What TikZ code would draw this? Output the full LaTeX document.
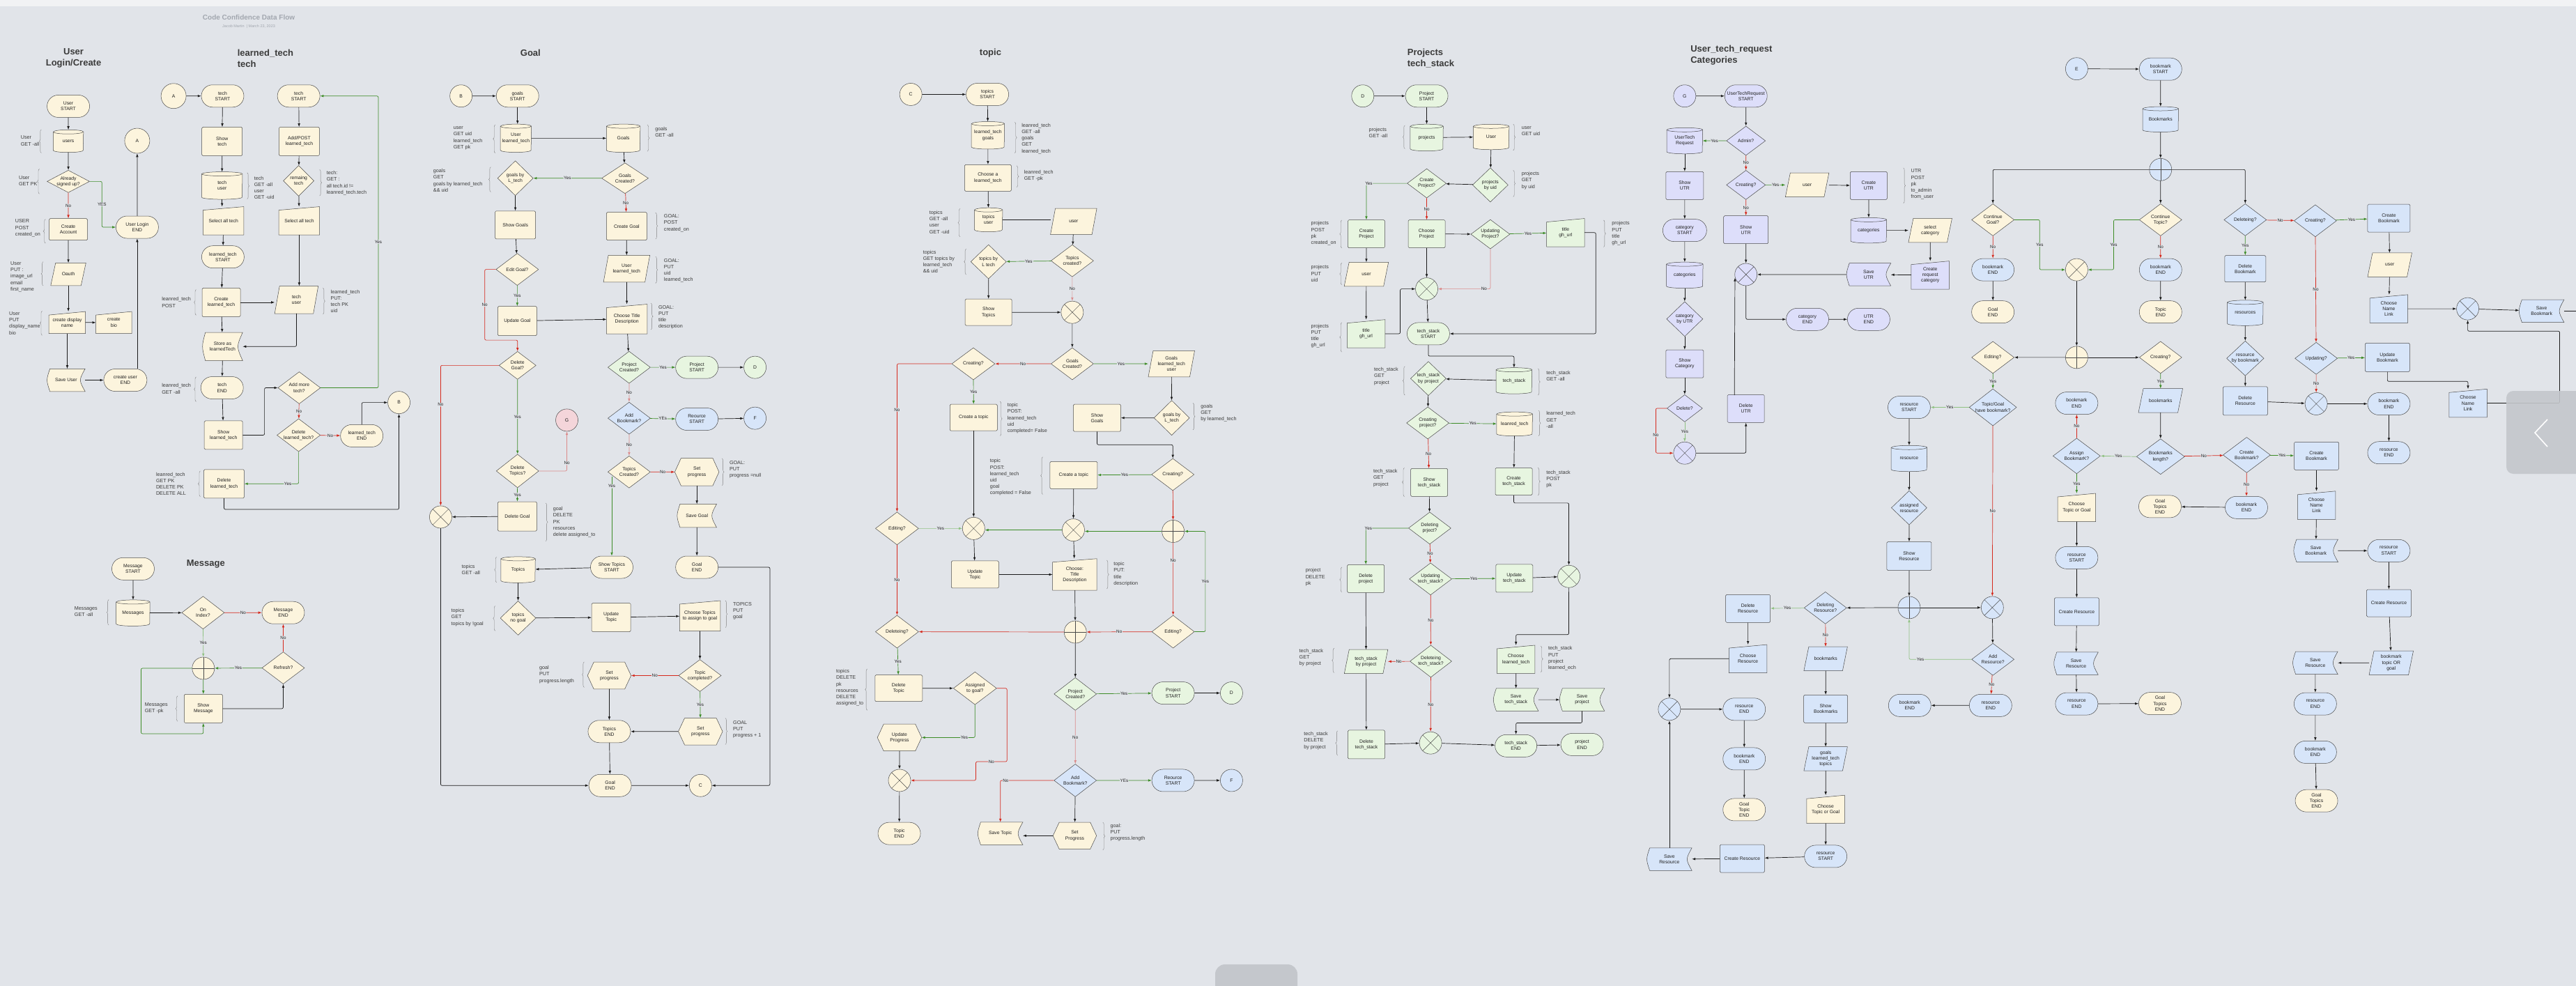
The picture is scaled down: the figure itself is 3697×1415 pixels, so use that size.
\documentclass[tikz,border=0pt]{standalone}
\usepackage{fontspec}
\setmainfont{Liberation Sans}
\usetikzlibrary{shapes.geometric,shapes.misc,arrows.meta,decorations.pathreplacing,calc,backgrounds}
\definecolor{bg}{HTML}{E1E4E9}
\definecolor{cr}{HTML}{FCF4DD}
\definecolor{gn}{HTML}{E7F5E0}
\definecolor{bl}{HTML}{D7E5F9}
\definecolor{lv}{HTML}{DDDEFA}
\definecolor{pk}{HTML}{F4D5DA}
\definecolor{bd}{HTML}{4A4A4A}
\definecolor{ln}{HTML}{1A1A1A}
\definecolor{gr}{HTML}{3C8C26}
\definecolor{rd}{HTML}{D5281C}
\definecolor{grl}{HTML}{8FC181}
\definecolor{rdl}{HTML}{DB8A8A}
\definecolor{txt}{HTML}{202020}
\definecolor{ttl}{HTML}{3A3A3A}
\definecolor{sub}{HTML}{A2A7AF}
\definecolor{topc}{HTML}{F1F2F4}
\definecolor{uig}{HTML}{C4C7CC}
\newcommand\fnNode{\fontsize{6.8}{8.2}\selectfont}
\newcommand\fnAnn{\fontsize{7.2}{9.2}\selectfont}
\newcommand\fnTitle{\fontsize{13}{15.6}\selectfont\bfseries}
\newcommand\fnLab{\fontsize{6.3}{7}\selectfont}
\newcommand\fnMain{\fontsize{10}{12}\selectfont\bfseries}
\newcommand\fnSub{\fontsize{5.5}{6.5}\selectfont}
\newcommand\BrL[3]{\draw[brc] (#1,#3) -- (#1,#2);}
\newcommand\BrR[3]{\draw[brc] (#1,#2) -- (#1,#3);}
\newcommand\ShCyl[3]{%
\path[shp,fill=#2] ([yshift=-3pt]#1.north west) -- ([yshift=3pt]#1.south west) arc[start angle=180,end angle=360,x radius=#3pt,y radius=3pt] -- ([yshift=-3pt]#1.north east) arc[start angle=0,end angle=180,x radius=#3pt,y radius=3pt] -- cycle;
\draw[shp] ([yshift=-3pt]#1.north west) arc[start angle=180,end angle=360,x radius=#3pt,y radius=3pt];}
\newcommand\ShMan[2]{\path[shp,fill=#2] (#1.south west) -- (#1.south east) -- (#1.north east) -- ([yshift=-5pt]#1.north west) -- cycle;}
\newcommand\ShSto[2]{\path[shp,fill=#2] ([xshift=4pt]#1.north west) -- (#1.north east) .. controls ([xshift=-9pt]#1.east) .. (#1.south east) -- ([xshift=4pt]#1.south west) .. controls ([xshift=-1.4pt]#1.west) .. ([xshift=4pt]#1.north west) -- cycle;}
\newcommand\ShHex[2]{\path[shp,fill=#2] (#1.west) -- ([xshift=9pt]#1.north west) -- ([xshift=-9pt]#1.north east) -- (#1.east) -- ([xshift=-9pt]#1.south east) -- ([xshift=9pt]#1.south west) -- cycle;}
\newcommand\ShPar[2]{\path[shp,fill=#2] ([xshift=7pt]#1.north west) -- (#1.north east) -- ([xshift=-7pt]#1.south east) -- (#1.south west) -- cycle;}
\tikzset{
 nd/.style={draw=bd, line width=0.5pt, align=center, inner sep=1pt, font=\fnNode, text=txt},
 term/.style={nd, rounded rectangle, fill=#1, minimum width=63pt, minimum height=32pt},
 proc/.style={nd, rectangle, rounded corners=1.5pt, fill=#1, minimum width=57pt, minimum height=40pt},
 dec/.style={nd, diamond, inner sep=0pt, aspect=1.32, fill=#1, minimum width=61pt, minimum height=46pt},
 circ/.style={nd, circle, fill=#1, minimum size=32pt, inner sep=0pt},
 xc/.style={circ=#1, path picture={\draw[draw=bd, line width=0.4pt] (path picture bounding box.north west) -- (path picture bounding box.south east) (path picture bounding box.north east) -- (path picture bounding box.south west);}},
 pc/.style={circ=#1, path picture={\draw[draw=bd, line width=0.4pt] (path picture bounding box.north) -- (path picture bounding box.south) (path picture bounding box.west) -- (path picture bounding box.east);}},
 sp/.style={nd, draw=none, rectangle, minimum width=57pt, minimum height=40pt},
 wh/.style 2 args={minimum width=#1pt, minimum height=#2pt},
 shp/.style={draw=bd, line width=0.5pt},
 arr/.style={draw=ln, line width=0.7pt, rounded corners=2pt, -{Latex[length=5pt,width=3.6pt]}},
 ga/.style={arr, draw=gr}, ra/.style={arr, draw=rd},
 gla/.style={arr, draw=grl}, rla/.style={arr, draw=rdl},
 pl/.style={draw=ln, line width=0.7pt, rounded corners=2pt},
 lab/.style={fill=bg, inner sep=0.5pt, font=\fnLab, text=txt},
 an/.style={anchor=west, align=left, font=\fnAnn, text=ttl, inner sep=0pt},
 brc/.style={draw=bd!70, line width=0.4pt, decorate, decoration={brace, amplitude=3pt}},
 z1/.style={shift={(0,0)},xscale=0.39541,yscale=0.45918},
 z2/.style={shift={(600,0)},xscale=0.39541,yscale=0.45918},
 z3/.style={shift={(1200,0)},xscale=0.39541,yscale=0.45918},
 z4/.style={shift={(1800,0)},xscale=0.39541,yscale=0.45918},
 z5/.style={shift={(2400,0)},xscale=0.41454,yscale=0.45918},
 z6/.style={shift={(3040,0)},xscale=0.41901,yscale=0.45918},
 z7/.style={shift={(0,700)},xscale=0.39541,yscale=0.45599},
 z8/.style={shift={(600,700)},xscale=0.39541,yscale=0.45599},
 z9/.style={shift={(1200,700)},xscale=0.39541,yscale=0.45599},
 z10/.style={shift={(1800,700)},xscale=0.39541,yscale=0.45599},
 z11/.style={shift={(2400,700)},xscale=0.41454,yscale=0.45599},
 z12/.style={shift={(3040,700)},xscale=0.41901,yscale=0.45599},
}
\begin{document}
\begin{tikzpicture}[x=1pt,y=-1pt]
\path[use as bounding box] (0,0) rectangle (3697,1415);
% ================= Z1 =================
\begin{scope}[z1]
\node[font=\fnMain, text=sub] (mainT) at (903,55) {Code Confidence Data Flow};
\node[font=\fnSub, text=sub] (subT) at (903,83) {Jacob Martin \ |\ March 23, 2023};
\node[font=\fnTitle, text=ttl, align=center] (tUser) at (267,182) {User\\Login/Create};
\node[font=\fnTitle, text=ttl, align=left, anchor=west] (tLT) at (853,182) {learned\_tech\\tech};
\node[term=cr] (uStart) at (248,332) {User\\START};
\node[sp, wh={43}{32}] (users) at (248,441) {users};
\node[dec=cr, wh={60}{31}, aspect=1.9] (signed) at (248,567) {Already\\signed up?};
\node[circ=cr, minimum size=36pt] (A1) at (498,440) {A};
\node[term=cr] (loginEnd) at (498,710) {User Login\\END};
\node[proc=cr, wh={55}{31}] (createAcc) at (248,717) {Create\\Account};
\node[sp, wh={50}{32}] (oauth) at (248,857) {Oauth};
\node[sp, wh={52}{31}] (dispName) at (244,1008) {create display\\name};
\node[sp, wh={51}{31}] (bio) at (413,1008) {create\\bio};
\node[sp, wh={54}{32}] (saveUser) at (240,1188) {Save User};
\node[term=cr, wh={64}{32}] (cuEnd) at (455,1188) {create user\\END};
\node[an] (aU1) at (75,440) {User\\GET -all}; \BrL{150}{405}{478}
\node[an] (aU2) at (68,566) {User\\GET PK}; \BrL{143}{528}{606}
\node[an] (aU3) at (55,713) {USER\\POST\\created\_on}; \BrL{165}{685}{760}
\node[an] (aU4) at (38,865) {User\\PUT :\\image\_url\\email\\first\_name}; \BrL{157}{818}{893}
\node[an] (aU5) at (33,1010) {User\\PUT\\display\_name\\bio}; \BrL{153}{972}{1048}
\draw[arr] (uStart) -- (users);
\draw[arr] (users) -- (signed);
\draw[ra] (signed) -- node[lab]{No} (createAcc);
\draw[ga] (signed.east) -- (370,567) |- node[lab,pos=0.25]{YES} (loginEnd.west);
\draw[arr] (loginEnd) -- (A1);
\draw[arr] (createAcc) -- (oauth);
\draw[arr] (oauth.south) -- (oauth.south |- dispName.north);
\draw[arr] (dispName) -- (bio);
\draw[arr] (dispName.south) -- (dispName.south |- saveUser.north);
\draw[arr] (saveUser) -- (cuEnd);
\draw[arr] (cuEnd.north -| loginEnd.south) -- (loginEnd.south);
% learned tech
\node[circ=cr, minimum size=36pt] (A2) at (630,300) {A};
\node[term=cr] (tStart1) at (808,300) {tech\\START};
\node[term=cr] (tStart2) at (1084,300) {tech\\START};
\node[proc=cr, wh={58}{41}] (showTech) at (806,442) {Show\\tech};
\node[proc=cr, wh={58}{41}] (addPost) at (1086,442) {Add/POST\\learned\_tech};
\node[sp, wh={58}{39}] (techUser) at (806,580) {tech\\user};
\node[dec=cr, wh={44}{44}, aspect=1] (remaing) at (1084,565) {remaing\\tech};
\node[sp, wh={58}{40}] (sel1) at (811,690) {Select all tech};
\node[sp, wh={58}{40}] (sel2) at (1086,690) {Select all tech};
\node[term=cr] (ltStart) at (809,803) {learned\_tech\\START};
\node[proc=cr, wh={55}{41}] (createLT) at (803,945) {Create\\learned\_tech};
\node[sp, wh={62}{39}] (techUser2) at (1076,937) {tech\\user};
\node[sp, wh={57}{40}] (storeLT) at (808,1083) {Store as\\learnedTech};
\node[term=cr] (tEnd) at (806,1212) {tech\\END};
\node[proc=cr, wh={55}{41}] (showLT) at (811,1360) {Show\\learned\_tech};
\node[dec=cr] (addMore) at (1086,1212) {Add more\\tech?};
\node[dec=cr, wh={62}{46}] (delQ) at (1084,1360) {Delete\\learned\_tech?};
\node[term=cr] (ltEnd) at (1313,1362) {learned\_tech\\END};
\node[circ=cr] (B1) at (1448,1258) {B};
\node[proc=cr, wh={58}{41}] (delLT) at (813,1512) {Delete\\learned\_tech};
\node[an] (aT1) at (922,587) {tech\\GET -all\\user\\GET -uid}; \BrR{897}{540}{622}
\node[an] (aT2) at (1185,572) {tech:\\GET :\\all tech.id !=\\leanred\_tech.tech}; \BrR{1160}{530}{612}
\node[an] (aT3) at (587,945) {leanred\_tech\\POST}; \BrL{712}{905}{985}
\node[an] (aT4) at (1200,942) {learned\_tech\\PUT:\\tech PK\\uid}; \BrR{1172}{900}{982}
\node[an] (aT5) at (587,1215) {leanred\_tech\\GET -all}; \BrL{712}{1178}{1255}
\node[an] (aT6) at (566,1512) {leanred\_tech\\GET PK\\DELETE PK\\DELETE ALL}; \BrL{727}{1472}{1552}
\draw[arr] (A2) -- (tStart1);
\draw[arr] (tStart1) -- (showTech);
\draw[arr] (showTech) -- (techUser);
\draw[arr] (techUser.south) -- (techUser.south |- sel1.north);
\draw[arr] (sel1) -- (ltStart);
\draw[arr] (ltStart) -- (createLT);
\draw[arr] (createLT.east) -- (createLT.east -| techUser2.west);
\draw[arr] (createLT) -- (storeLT);
\draw[arr] (techUser2.south) |- (storeLT.east);
\draw[arr] (storeLT) -- (tEnd);
\draw[arr] (tEnd) -- (showLT);
\draw[arr] (showLT.east) -- (960,1360) |- (addMore.west);
\draw[arr] (tStart2) -- (addPost);
\draw[arr] (addPost) -- (remaing);
\draw[arr] (remaing) -- (sel2);
\draw[arr] (sel2.south) -- (sel2.south |- techUser2.north);
\draw[ga] (addMore.east) -- (1373,1212) |- node[lab,pos=0.25]{Yes} (tStart2.east);
\draw[ra] (addMore) -- node[lab]{No} (delQ);
\draw[ra] (delQ) -- node[lab]{No} (ltEnd);
\draw[arr] (ltEnd.north) |- (B1.west);
\draw[ga] (delQ.south) |- node[lab,pos=0.6]{Yes} (delLT.east);
\draw[arr] (delLT.south) -- (813,1592) -| (B1.south);
\end{scope}
% ================= Z2 =================
\begin{scope}[z2]
\node[font=\fnTitle, text=ttl] (tGoal) at (408,165) {Goal};
\node[circ=cr] (B2) at (156,300) {B};
\node[term=cr] (gStart) at (361,300) {goals\\START};
\node[sp, wh={44}{40}] (ulCyl) at (355,432) {User\\learned\_tech};
\node[sp, wh={48}{40}] (goalsCyl) at (745,432) {Goals};
\node[dec=cr, wh={51}{50}, aspect=1] (gByL) at (353,557) {goals by\\L\_tech};
\node[dec=cr, wh={67}{44}, aspect=1.5] (goalsCreated) at (751,557) {Goals\\Created?};
\node[proc=cr, wh={58}{40}] (showGoals) at (353,703) {Show Goals};
\node[proc=cr, wh={58}{40}] (createGoal) at (757,707) {Create Goal};
\node[dec=cr] (editGoal) at (360,842) {Edit Goal?};
\node[sp, wh={66}{38}] (ulPara) at (757,840) {User\\learned\_tech};
\node[proc=cr, wh={56}{42}] (updGoal) at (360,1003) {Update Goal};
\node[sp, wh={58}{42}] (chooseTD) at (758,997) {Choose Title\\Description};
\node[dec=cr, wh={53}{40}] (delGoalQ) at (361,1142) {Delete\\Goal?};
\node[dec=gn] (projCreated) at (766,1148) {Project\\Created?};
\node[term=gn] (projStart) at (1012,1148) {Project\\START};
\node[circ=gn] (D1) at (1223,1148) {D};
\node[dec=bl] (addBm) at (766,1307) {Add\\Bookmark?};
\node[term=bl] (resStart) at (1012,1310) {Reource\\START};
\node[circ=bl] (F1) at (1223,1307) {F};
\node[dec=cr] (topicsCreated) at (766,1475) {Topics\\Created?};
\node[sp, wh={63}{39}] (setProg1) at (1012,1475) {Set\\progress};
\node[dec=cr, wh={61}{48}] (delTopicsQ) at (361,1472) {Delete\\Topics?};
\node[circ=pk] (G1) at (540,1313) {G};
\coordinate (tcY) at (703,1490);
\node[an] (aG1) at (128,432) {user\\GET uid\\learned\_tech\\GET pk}; \BrL{280}{390}{478}
\node[an] (aG2) at (860,412) {goals\\GET -all}; \BrR{832}{390}{473}
\node[an] (aG3) at (55,564) {goals\\GET\\goals by learned\_tech\\\&\& uid}; \BrL{264}{522}{600}
\node[an] (aG4) at (892,697) {GOAL:\\POST\\created\_on}; \BrR{862}{665}{747}
\node[an] (aG5) at (892,845) {GOAL:\\PUT\\uid\\learned\_tech}; \BrR{862}{802}{885}
\node[an] (aG6) at (872,991) {GOAL:\\PUT\\title\\description}; \BrR{845}{948}{1030}
\node[an] (aG7) at (1130,1467) {GOAL:\\PUT\\progress =null}; \BrR{1103}{1433}{1517}
\draw[arr] (B2) -- (gStart);
\draw[arr] (gStart.south) -- (gStart.south |- ulCyl.north);
\draw[arr] (ulCyl) -- (goalsCyl);
\draw[arr] (goalsCyl) -- (goalsCreated);
\draw[ga] (goalsCreated) -- node[lab]{Yes} (gByL);
\draw[ra] (goalsCreated) -- node[lab]{No} (createGoal);
\draw[arr] (gByL) -- (showGoals);
\draw[arr] (showGoals) -- (editGoal);
\draw[arr] (createGoal) -- (ulPara);
\draw[arr] (ulPara) -- (chooseTD);
\draw[ga] (editGoal) -- node[lab]{Yes} (updGoal);
\draw[arr] (updGoal) -- (chooseTD);
\draw[ra] (editGoal.west) -- (242,842) -- node[lab]{No} (242,1063) -| (delGoalQ.north);
\draw[arr] (chooseTD) -- (projCreated);
\draw[ga] (projCreated) -- node[lab]{Yes} (projStart);
\draw[arr] (projStart) -- (D1);
\draw[rla] (projCreated) -- node[lab]{No} (addBm);
\draw[ga] (addBm) -- node[lab]{YEs} (resStart);
\draw[arr] (resStart) -- (F1);
\draw[rla] (addBm) -- node[lab]{No} (topicsCreated);
\draw[ra] (topicsCreated) -- node[lab]{No} (setProg1);
\draw[ga] (delGoalQ) -- node[lab]{Yes} (delTopicsQ);
\draw[rla] (delTopicsQ.east) -| node[lab,pos=0.6]{No} (G1.south);
\end{scope}
% ================= Z8 =================
\begin{scope}[z8]
\node[xc=cr] (X1) at (82,92) {};
\node[proc=cr, wh={56}{42}] (delGoal) at (360,90) {Delete Goal};
\node[sp, wh={56}{33}] (saveGoal) at (1012,88) {Save Goal};
\node[term=cr] (stStart) at (703,250) {Show Topics\\START};
\node[term=cr] (gEnd1) at (1012,250) {Goal\\END};
\node[sp, wh={49}{37}] (topicsCyl) at (363,258) {Topics};
\node[dec=cr, wh={51}{49}, aspect=1] (tNoGoal) at (363,410) {topics\\no goal};
\node[proc=cr, wh={56}{41}] (updTopic1) at (701,408) {Update\\Topic};
\node[sp, wh={58}{43}] (chooseTopics) at (1023,403) {Choose Topics\\to assign to goal};
\node[dec=cr] (topicComp) at (1023,591) {Topic\\completed?};
\node[sp, wh={62}{38}] (setProgL) at (694,591) {Set\\progress};
\node[sp, wh={63}{38}] (setProgR) at (1025,767) {Set\\progress};
\node[term=cr] (topicsEnd) at (694,767) {Topics\\END};
\node[term=cr] (gEnd2) at (697,937) {Goal\\END};
\node[circ=cr] (C1) at (1025,937) {C};
\node[an] (aG8) at (490,108) {goal\\DELETE\\PK\\resources\\delete assigned\_to}; \BrR{463}{48}{168}
\node[an] (aG9) at (158,257) {topics\\GET -all}; \BrL{285}{218}{298}
\node[an] (aG10) at (120,408) {topics\\GET\\topics by !goal}; \BrL{280}{372}{450}
\node[an] (aG11) at (1143,388) {TOPICS\\PUT\\goal}; \BrR{1115}{355}{440}
\node[an] (aG12) at (440,588) {goal\\PUT\\progress.length}; \BrL{603}{548}{628}
\node[an] (aG13) at (1143,760) {GOAL\\PUT\\progress + 1}; \BrR{1115}{725}{808}
\draw[arr] (delGoal) -- (X1);
\draw[arr] (saveGoal) -- (gEnd1);
\draw[arr] (stStart) -- (topicsCyl);
\draw[arr] (topicsCyl) -- (tNoGoal);
\draw[arr] (tNoGoal) -- (updTopic1);
\draw[arr] (updTopic1) -- (chooseTopics);
\draw[arr] (chooseTopics) -- (topicComp);
\draw[ra] (topicComp) -- node[lab]{No} (setProgL);
\draw[ga] (topicComp) -- node[lab]{Yes} (setProgR);
\draw[arr] (setProgR) -- (topicsEnd);
\draw[arr] (setProgL) -- (topicsEnd);
\draw[arr] (topicsEnd) -- (gEnd2);
\draw[arr] (gEnd2) -- (C1);
\draw[arr] (X1.south) |- (gEnd2.west);
\draw[arr] (gEnd1.east) -- (1277,250) |- (C1.east);
\end{scope}
% ================= Z3 =================
\begin{scope}[z3]
\node[font=\fnTitle, text=ttl] (tTopic) at (560,165) {topic};
\node[circ=cr] (C2) at (271,295) {C};
\node[term=cr] (tpStart) at (549,295) {topics\\START};
\node[sp, wh={47}{39}] (ltgCyl) at (551,423) {learned\_tech\\goals};
\node[proc=cr, wh={67}{38}] (chooseLT) at (551,556) {Choose a\\learned\_tech};
\node[sp, wh={40}{34}] (tuCyl) at (553,687) {topics\\user};
\node[sp, wh={66}{37}] (userP) at (862,692) {user};
\node[dec=cr, wh={51}{49}, aspect=1] (tByL) at (553,818) {topics by\\L tech};
\node[dec=cr] (topicsCreatedQ) at (857,815) {Topics\\created?};
\node[proc=cr, wh={67}{38}] (showTopics) at (553,976) {Show\\Topics};
\node[xc=cr] (X2) at (857,976) {};
\node[dec=cr, wh={62}{46}] (creatingL) at (498,1137) {Creating?};
\node[dec=cr] (goalsCreatedQ) at (857,1137) {Goals\\Created?};
\node[sp, wh={66}{37}] (gltu) at (1217,1137) {Goals\\learned\_tech\\user};
\node[dec=cr, wh={51}{50}, aspect=1] (gByL2) at (1218,1306) {goals by\\L\_tech};
\node[proc=cr, wh={68}{39}] (showGoals2) at (947,1306) {Show\\Goals};
\node[proc=cr, wh={68}{38}] (createTopicL) at (499,1305) {Create a topic};
\node[dec=cr] (creatingR) at (1222,1483) {Creating?};
\node[proc=cr, wh={68}{39}] (createTopicR) at (862,1485) {Create a topic};
\node[an] (aP1) at (673,433) {leanred\_tech\\GET -all\\goals\\GET\\learned\_tech}; \BrR{648}{382}{478}
\node[an] (aP2) at (682,549) {leanred\_tech\\GET -pk}; \BrR{655}{518}{585}
\node[an] (aP3) at (338,694) {topics\\GET -all\\user\\GET -uid}; \BrL{450}{652}{740}
\node[an] (aP4) at (315,818) {topics\\GET topics by\\learned\_tech\\\&\& uid}; \BrL{472}{778}{858}
\node[an] (aP5) at (621,1307) {topic\\POST:\\learned\_tech\\uid\\completed= False}; \BrR{595}{1255}{1362}
\node[an] (aP6) at (1323,1291) {goals\\GET\\by learned\_tech}; \BrR{1295}{1260}{1343}
\node[an] (aP7) at (558,1492) {topic\\POST:\\learned\_tech\\uid\\goal\\completed = False}; \BrL{750}{1428}{1545}
\draw[arr] (C2) -- (tpStart);
\draw[arr] (tpStart) -- (ltgCyl);
\draw[arr] (ltgCyl) -- (chooseLT);
\draw[arr] (chooseLT) -- (tuCyl);
\draw[pl] (tuCyl.east) -- (tuCyl.east -| userP.west);
\draw[arr] (userP) -- (topicsCreatedQ);
\draw[ga] (topicsCreatedQ) -- node[lab]{Yes} (tByL);
\draw[rla] (topicsCreatedQ) -- node[lab]{No} (X2);
\draw[arr] (tByL) -- (showTopics);
\draw[arr] (showTopics) -- (X2);
\draw[arr] (X2) -- (goalsCreatedQ);
\draw[ra] (goalsCreatedQ) -- node[lab]{No} (creatingL);
\draw[ga] (goalsCreatedQ) -- node[lab]{Yes} (gltu);
\draw[arr] (gltu) -- (gByL2);
\draw[arr] (gByL2) -- (showGoals2);
\draw[arr] (showGoals2.south) -- (947,1390) -| (creatingR.north);
\draw[ga] (creatingR) -- node[lab]{Yes} (createTopicR);
\draw[ga] (creatingL) -- node[lab]{Yes} (createTopicL);
\end{scope}
% ================= Z9 =================
\begin{scope}[z9]
\node[dec=cr, wh={62}{47}] (editingL) at (221,128) {Editing?};
\node[xc=cr] (Xa) at (499,128) {};
\node[xc=cr] (Xb) at (861,133) {};
\node[pc=cr] (plusC) at (1223,137) {};
\node[proc=cr, wh={68}{39}] (updTopic2) at (504,273) {Update\\Topic};
\node[sp, wh={63}{45}] (chooseTD2) at (866,273) {Choose:\\Title\\Description};
\node[pc=cr] (plusD) at (868,454) {};
\node[dec=cr, wh={61}{47}] (editingR) at (1223,453) {Editing?};
\node[dec=cr, wh={62}{47}] (deleteingQ) at (221,453) {Deleteing?};
\node[proc=cr, wh={68}{38}] (delTopic) at (227,631) {Delete\\Topic};
\node[dec=cr, wh={62}{47}] (assignedQ) at (504,631) {Assigned\\to goal?};
\node[sp, wh={63}{38}] (updProg) at (230,786) {Update\\Progress};
\node[xc=cr] (Xe) at (230,921) {};
\node[term=cr] (topicEnd) at (229,1088) {Topic\\END};
\node[dec=gn, wh={61}{47}] (projCreated2) at (868,649) {Project\\Created?};
\node[term=gn] (projStart2) at (1223,646) {Project\\START};
\node[circ=gn] (D2) at (1435,646) {D};
\node[dec=bl, wh={61}{47}] (addBm2) at (868,921) {Add\\Bookmark?};
\node[term=bl] (resStart2) at (1223,921) {Reource\\START};
\node[circ=bl] (F2) at (1435,921) {F};
\node[sp, wh={64}{32}] (saveTopic) at (596,1088) {Save Topic};
\node[sp, wh={62}{38}] (setProg2) at (866,1095) {Set\\Progress};
\node[an] (aP8) at (1007,271) {topic\\PUT:\\title\\description}; \BrR{982}{228}{318}
\node[an] (aP9) at (0,629) {topics\\DELETE\\pk\\resources\\DELETE\\assigned\_to}; \BrL{113}{570}{700}
\node[an] (aP10) at (995,1085) {goal:\\PUT\\progress.length}; \BrR{968}{1053}{1140}
\draw[gla] (editingL) -- node[lab]{Yes} (Xa);
\draw[arr] (Xa) -- (updTopic2);
\draw[arr] (updTopic2.east) -- (updTopic2.east -| chooseTD2.west);
\draw[arr] (Xb) -- (chooseTD2);
\draw[ga] (Xb.west) -- (Xb.west -| Xa.east);
\draw[ga] (plusC.west) -- (plusC.west -| Xb.east);
\draw[ga] (editingR.east) -- (1340,453) |- node[lab,pos=0.25]{Yes} (plusC.east);
\draw[ra] (plusC) -- node[lab,pos=0.25]{No} (editingR);
\draw[arr] (chooseTD2) -- (plusD);
\draw[ra] (editingR) -- node[lab]{No} (plusD);
\draw[ra] (plusD) -- (deleteingQ);
\draw[ra] (editingL) -- node[lab]{No} (deleteingQ);
\draw[ga] (deleteingQ) -- node[lab]{Yes} (delTopic);
\draw[arr] (delTopic) -- (assignedQ);
\draw[ga] (assignedQ.south) |- node[lab,pos=0.6]{Yes} (updProg.east);
\draw[ra] (assignedQ.east) -- (620,631) -- (620,862) -- node[lab]{No} (507,862) |- (Xe.east);
\draw[arr] (updProg) -- (Xe);
\draw[arr] (Xe) -- (topicEnd);
\draw[arr] (plusD) -- (projCreated2);
\draw[ga] (projCreated2) -- node[lab]{Yes} (projStart2);
\draw[arr] (projStart2) -- (D2);
\draw[rla] (projCreated2) -- node[lab]{No} (addBm2);
\draw[ga] (addBm2) -- node[lab]{YEs} (resStart2);
\draw[arr] (resStart2) -- (F2);
\draw[ra] (addBm2.west) -| node[lab,pos=0.45]{No} (saveTopic.north);
\draw[arr] (addBm2) -- (setProg2);
\draw[arr] (setProg2.west) -- (setProg2.west -| saveTopic.east);
\end{scope}
% ================= Z4 =================
\begin{scope}[z4]
\node[font=\fnTitle, text=ttl, align=left, anchor=west] (tProj) at (547,182) {Projects\\tech\_stack};
\node[circ=gn] (D3) at (394,300) {D};
\node[term=gn] (pStart) at (626,300) {Project\\START};
\node[sp, wh={47}{38}] (projCyl) at (626,430) {projects};
\node[sp, wh={51}{36}] (userCyl) at (860,428) {User};
\node[dec=gn, wh={51}{49}, aspect=1] (pByUid) at (857,578) {projects\\by uid};
\node[dec=gn, wh={56}{42}] (createPQ) at (626,573) {Create\\Project?};
\node[proc=gn, wh={53}{40}] (createP) at (407,731) {Create\\Project};
\node[proc=gn, wh={53}{40}] (chooseP) at (626,731) {Choose\\Project};
\node[dec=gn, wh={56}{42}] (updPQ) at (857,732) {Updating\\Project?};
\node[sp, wh={54}{40}] (tgu1) at (1130,727) {title\\gh\_url};
\node[sp, wh={63}{34}] (userP2) at (407,857) {user};
\node[sp, wh={54}{40}] (tgu2) at (406,1043) {title\\gh\_url};
\node[xc=gn] (X5) at (626,903) {};
\node[term=gn] (tsStart) at (632,1043) {tech\_stack\\START};
\node[sp, wh={51}{37}] (tsCyl) at (943,1190) {tech\_stack};
\node[dec=gn, wh={51}{49}, aspect=1] (tsByP) at (632,1183) {tech\_stack\\by project};
\node[dec=gn] (creatingPQ) at (630,1322) {Creating\\project?};
\node[sp, wh={51}{34}] (ltCyl) at (945,1325) {leanred\_tech};
\node[proc=gn, wh={53}{39}] (createTS) at (942,1505) {Create\\tech\_stack};
\node[proc=gn, wh={53}{40}] (showTS) at (635,1508) {Show\\tech\_stack};
\node[an] (aJ1) at (416,415) {projects\\GET -all}; \BrL{547}{392}{465}
\node[an] (aJ2) at (970,410) {user\\GET uid}; \BrR{940}{388}{470}
\node[an] (aJ3) at (970,564) {projects\\GET\\by uid}; \BrR{940}{532}{615}
\node[an] (aJ4) at (206,729) {projects\\POST\\pk\\created\_on}; \BrL{318}{688}{775}
\node[an] (aJ5) at (206,855) {projects\\PUT\\uid}; \BrL{318}{822}{890}
\node[an] (aJ6) at (206,1050) {projects\\PUT\\title\\gh\_url}; \BrL{318}{1008}{1100}
\node[an] (aJ7) at (1298,729) {projects\\PUT\\title\\gh\_url}; \BrR{1268}{688}{772}
\node[an] (aJ8) at (435,1176) {tech\_stack\\GET\\project}; \BrL{547}{1145}{1235}
\node[an] (aJ9) at (1060,1174) {tech\_stack\\GET -all}; \BrR{1030}{1152}{1235}
\node[an] (aJ10) at (1060,1312) {learned\_tech\\GET\\-all}; \BrR{1032}{1283}{1362}
\node[an] (aJ11) at (1060,1497) {tech\_stack\\POST\\pk}; \BrR{1030}{1462}{1548}
\node[an] (aJ12) at (432,1494) {tech\_stack\\GET\\project}; \BrL{545}{1462}{1552}
\draw[arr] (D3) -- (pStart);
\draw[arr] (pStart) -- (projCyl);
\draw[arr] (projCyl) -- (userCyl);
\draw[arr] (userCyl) -- (pByUid);
\draw[arr] (pByUid) -- (createPQ);
\draw[ga] (createPQ.west) -| node[lab,pos=0.47]{Yes} (createP.north);
\draw[ra] (createPQ) -- node[lab]{No} (chooseP);
\draw[arr] (createP) -- (userP2);
\draw[arr] (userP2) -- (tgu2);
\draw[arr] (chooseP) -- (updPQ);
\draw[ga] (updPQ) -- node[lab]{Yes} (tgu1);
\draw[rla] (updPQ.south) |- node[lab,pos=0.56]{No} (X5.east);
\draw[arr] (chooseP) -- (X5);
\draw[arr] (tgu2.east) -- (530,1043) |- (X5.west);
\draw[arr] (X5) -- (tsStart);
\draw[arr] (tgu1.east) -- (1240,727) |- (tsStart.east);
\draw[arr] (tsStart.south) -- (632,1113) -| (tsCyl.north);
\draw[arr] (tsCyl) -- (tsByP);
\draw[arr] (tsByP) -- (creatingPQ);
\draw[ga] (creatingPQ) -- node[lab]{Yes} (ltCyl);
\draw[arr] (ltCyl) -- (createTS);
\draw[ra] (creatingPQ) -- node[lab]{No} (showTS);
\end{scope}
% ================= Z10 =================
\begin{scope}[z10]
\node[dec=gn] (delPQ) at (637,127) {Deleting\\prject?};
\node[proc=gn, wh={53}{40}] (delProj) at (405,286) {Delete\\project};
\node[dec=gn] (updTSQ) at (640,287) {Updating\\tech\_stack?};
\node[proc=gn, wh={53}{40}] (updTS) at (944,285) {Update\\tech\_stack};
\node[xc=gn] (X6) at (1142,279) {};
\node[sp, wh={54}{40}] (chooseLT2) at (950,540) {Choose\\learned\_tech};
\node[sp, wh={64}{32}] (saveTS) at (950,667) {Save\\tech\_stack};
\node[sp, wh={64}{32}] (saveProj) at (1190,667) {Save\\project};
\node[term=gn, wh={62}{32}] (tsEnd) at (950,812) {tech\_stack\\END};
\node[term=gn] (pEnd) at (1190,808) {project\\END};
\node[dec=gn, wh={60}{46}] (delTSQ) at (641,546) {Deleteing\\tech\_stack?};
\node[sp, wh={62}{34}] (tsByP2) at (406,547) {tech\_stack\\by project};
\node[proc=gn, wh={53}{41}] (delTS) at (407,808) {Delete\\tech\_stack};
\node[xc=gn] (X7) at (640,803) {};
\coordinate (cTS) at (950,48);
\node[an] (aJ13) at (186,281) {project\\DELETE\\pk}; \BrL{318}{250}{328}
\node[an] (aJ14) at (1067,537) {tech\_stack\\PUT\\project\\learned\_ech}; \BrR{1040}{498}{580}
\node[an] (aJ15) at (163,534) {tech\_stack\\GET\\by project}; \BrL{290}{505}{582}
\node[an] (aJ16) at (180,796) {tech\_stack\\DELETE\\by project}; \BrL{303}{765}{842}
\draw[ga] (delPQ.west) -| node[lab,pos=0.47]{Yes} (delProj.north);
\draw[ra] (delPQ) -- node[lab]{No} (updTSQ);
\draw[ga] (updTSQ) -- node[lab]{Yes} (updTS);
\draw[arr] (updTS) -- (X6);
\draw[arr] (X6.south) -- (1142,462) -| (chooseLT2.north);
\draw[arr] (chooseLT2) -- (saveTS);
\draw[arr] (saveTS) -- (saveProj);
\draw[arr] (saveProj.south) -- (1190,740) -| (tsEnd.north);
\draw[arr] (tsEnd) -- (pEnd);
\draw[ra] (updTSQ) -- node[lab]{No} (delTSQ);
\draw[ra] (delTSQ) -- node[lab]{No} (tsByP2);
\draw[arr] (delProj) -- (tsByP2);
\draw[arr] (tsByP2) -- (delTS);
\draw[ra] (delTSQ) -- node[lab]{No} (X7);
\draw[arr] (delTS) -- (X7);
\draw[arr] (X7) -- (tsEnd);
\end{scope}
% ================= Z5 =================
\begin{scope}[z5]
\node[font=\fnTitle, text=ttl, align=left, anchor=west] (tUTR) at (55,172) {User\_tech\_request\\Categories};
\node[circ=lv] (G2) at (43,300) {G};
\node[term=lv] (utrStart) at (255,300) {UserTechRequest\\START};
\node[dec=lv, wh={56}{42}] (admin) at (255,440) {Admin?};
\node[sp, wh={51}{37}] (utrCyl) at (43,440) {UserTech\\Request};
\node[proc=lv, wh={54}{40}] (showUTR1) at (43,580) {Show\\UTR};
\node[term=lv, wh={65}{32}] (catStart) at (43,720) {category\\START};
\node[sp, wh={52}{37}] (catCyl) at (43,860) {categories};
\node[dec=lv, wh={52}{50}, aspect=1] (catByUTR) at (43,997) {category\\by UTR};
\node[proc=lv, wh={54}{40}] (showCat) at (43,1137) {Show\\Category};
\node[dec=lv, wh={51}{39}] (deleteQ) at (43,1276) {Delete?};
\node[xc=lv] (X8) at (43,1416) {};
\node[dec=lv, wh={56}{42}] (creatingU) at (255,578) {Creating?};
\node[sp, wh={62}{34}] (userP3) at (467,578) {user};
\node[proc=lv, wh={53}{40}] (createUTR) at (680,580) {Create\\UTR};
\node[proc=lv, wh={64}{40}] (showUTR2) at (255,718) {Show\\UTR};
\node[sp, wh={51}{36}] (catCyl2) at (680,720) {categories};
\node[sp, wh={62}{34}] (selCat) at (893,720) {select\\category};
\node[xc=lv] (X9) at (255,858) {};
\node[sp, wh={63}{32}] (saveUTR) at (680,858) {Save\\UTR};
\node[sp, wh={54}{40}] (createReqCat) at (893,860) {Create\\request\\category};
\node[term=lv] (catEnd) at (468,998) {category\\END};
\node[term=lv] (utrEnd) at (680,998) {UTR\\END};
\node[proc=lv, wh={53}{40}] (delUTR) at (255,1277) {Delete\\UTR};
\coordinate (du1) at (215,1235);
\coordinate (du2) at (217,868);
\coordinate (dqL) at (-57,1276);
\node[an] (aR1) at (826,576) {UTR\\POST\\pk\\to\_admin\\from\_user}; \BrR{800}{525}{635}
\draw[arr] (G2) -- (utrStart);
\draw[arr] (utrStart) -- (admin);
\draw[ga] (admin) -- node[lab]{Yes} (utrCyl);
\draw[ra] (admin) -- node[lab]{No} (creatingU);
\draw[ga] (creatingU) -- node[lab]{Yes} (userP3);
\draw[arr] (userP3) -- (createUTR);
\draw[arr] (createUTR) -- (catCyl2);
\draw[arr] (catCyl2) -- (selCat);
\draw[arr] (selCat) -- (createReqCat);
\draw[arr] (createReqCat) -- (saveUTR);
\draw[arr] (saveUTR) -- (X9);
\draw[ra] (creatingU) -- node[lab]{No} (showUTR2);
\draw[arr] (showUTR2) -- (X9);
\draw[arr] (X9.south) |- (catEnd.west);
\draw[arr] (catEnd) -- (utrEnd);
\draw[arr] (utrCyl) -- (showUTR1);
\draw[arr] (showUTR1) -- (catStart);
\draw[arr] (catStart) -- (catCyl);
\draw[arr] (catCyl) -- (catByUTR);
\draw[arr] (catByUTR) -- (showCat);
\draw[arr] (showCat) -- (deleteQ);
\draw[gla] (deleteQ) -- node[lab]{Yes} (X8);
\draw[ra] (deleteQ.west) -- (dqL) |- node[lab,pos=0.3]{No} (X8.west);
\draw[arr] (X8.east) -| (delUTR.south);
\draw[arr] (du1) -- (du2);
% bookmark part
\node[circ=bl] (E1) at (1400,215) {E};
\node[dec=cr] (contGoal) at (1110,687) {Continue\\Goal?};
\node[term=bl] (bmEnd1) at (1110,843) {bookmark\\END};
\node[term=cr] (goalEnd1) at (1110,975) {Goal\\END};
\node[xc=cr] (X10) at (1400,843) {};
\node[pc=cr] (plusE) at (1400,1117) {};
\node[dec=cr] (editingB) at (1110,1117) {Editing?};
\node[dec=bl, wh={68}{53}, aspect=1.3] (tgBm) at (1110,1273) {Topic/Goal\\have bookmark?};
\node[term=bl] (resStart3) at (820,1273) {resource\\START};
\node[sp, wh={51}{37}] (resCyl) at (820,1433) {resource};
\node[term=bl] (bmEnd2) at (1400,1260) {bookmark\\END};
\node[dec=bl, wh={68}{51}] (assignBm) at (1400,1425) {Assign\\BookmarK?};
\coordinate (cgY) at (1272,687);
\coordinate (ctY) at (1528,687);
\draw[ra] (contGoal) -- node[lab]{No} (bmEnd1);
\draw[arr] (bmEnd1) -- (goalEnd1);
\draw[ga] (contGoal.east) -- (cgY) |- node[lab,pos=0.25]{Yes} (X10.west);
\draw[arr] (X10) -- (plusE);
\draw[arr] (plusE) -- (editingB);
\draw[ga] (editingB) -- node[lab]{Yes} (tgBm);
\draw[gla] (tgBm) -- node[lab]{Yes} (resStart3);
\draw[arr] (resStart3) -- (resCyl);
\draw[ra] (assignBm) -- node[lab]{No} (bmEnd2);
\end{scope}
% ================= Z6 =================
\begin{scope}[z6]
\node[term=bl] (bmStart) at (145,216) {bookmark\\START};
\node[sp, wh={51}{36}] (bmCyl) at (145,373) {Bookmarks};
\node[pc=bl] (plusTop) at (145,530) {};
\node[dec=cr] (contTopic) at (145,687) {Continue\\Topic?};
\node[term=bl] (bmEnd3) at (145,843) {bookmark\\END};
\node[term=cr] (topicEnd2) at (145,975) {Topic\\END};
\node[dec=bl] (deletingB) at (435,687) {Deleteing?};
\node[dec=bl] (creatingB2) at (675,690) {Creating?};
\node[proc=bl, wh={61}{40}] (createBm1) at (927,682) {Create\\Bookmark};
\node[sp, wh={63}{34}] (userP4) at (930,828) {user};
\node[sp, wh={54}{40}] (chooseNL1) at (927,965) {Choose\\Name\\Link};
\node[xc=bl] (X11) at (1197,965) {};
\node[sp, wh={64}{32}] (saveBm1) at (1450,972) {Save\\Bookmark};
\node[proc=bl, wh={59}{38}] (delBm) at (435,840) {Delete\\Bookmark};
\node[sp, wh={51}{36}] (resCyl2) at (435,978) {resources};
\node[dec=bl, wh={52}{50}, aspect=1.1] (resByBm) at (435,1120) {resource\\by bookmark};
\node[proc=bl, wh={64}{41}] (delRes) at (435,1253) {Delete\\Resource};
\node[xc=bl] (X12) at (678,1262) {};
\node[dec=bl] (updatingB) at (678,1120) {Updating?};
\node[proc=bl, wh={64}{41}] (updBm) at (922,1117) {Update\\Bookmark};
\node[sp, wh={54}{40}] (chooseNL2) at (1198,1260) {Choose\\Name\\Link};
\node[term=bl] (bmEnd4) at (927,1262) {bookmark\\END};
\node[term=bl] (resEnd1) at (927,1415) {resource\\END};
\node[dec=cr] (creatingB) at (145,1117) {Creating?};
\node[sp, wh={63}{34}] (bmPara) at (145,1252) {bookmarks};
\node[dec=bl, wh={69}{51}] (bmLength) at (145,1427) {Bookmarks\\length?};
\node[dec=bl, wh={68}{51}] (createBmQ) at (440,1422) {Create\\Bookmark?};
\node[proc=bl, wh={64}{40}] (createBm2) at (679,1425) {Create\\Bookmark};
\coordinate (sbR) at (1568,972);
\draw[arr] (bmStart) -- (bmCyl);
\draw[arr] (bmCyl) -- (plusTop);
\draw[arr] (plusTop) -- (contTopic);
\draw[arr] (plusTop.east) -| (deletingB.north);
\draw[ra] (contTopic) -- node[lab]{No} (bmEnd3);
\draw[arr] (bmEnd3) -- (topicEnd2);
\draw[ra] (deletingB) -- node[lab]{No} (creatingB2);
\draw[ga] (creatingB2) -- node[lab]{Yes} (createBm1);
\draw[arr] (createBm1) -- (userP4);
\draw[arr] (userP4) -- (chooseNL1);
\draw[arr] (chooseNL1) -- (X11);
\draw[arr] (X11) -- (saveBm1);
\draw[pl] (saveBm1.east) -- (sbR);
\draw[ga] (deletingB) -- node[lab]{Yes} (delBm);
\draw[arr] (delBm) -- (resCyl2);
\draw[arr] (resCyl2) -- (resByBm);
\draw[arr] (resByBm) -- (delRes);
\draw[arr] (delRes) -- (X12);
\draw[ra] (creatingB2) -- node[lab]{No} (updatingB);
\draw[ga] (updatingB) -- node[lab]{Yes} (updBm);
\draw[ra] (updatingB) -- node[lab]{No} (X12);
\draw[arr] (X12) -- (bmEnd4);
\draw[arr] (bmEnd4) -- (resEnd1);
\draw[arr] (updBm.south) -- (922,1192) -| (chooseNL2.north);
\draw[arr] (chooseNL2.east) -- (1512,1260) -- (1512,1035) -| (X11.south);
\draw[ga] (creatingB) -- node[lab]{Yes} (bmPara);
\draw[arr] (bmPara) -- (bmLength);
\draw[ra] (bmLength) -- node[lab]{No} (createBmQ);
\draw[ga] (createBmQ) -- node[lab]{Yes} (createBm2);
\end{scope}
% ================= Z11 =================
\begin{scope}[z11]
\node[dec=bl, wh={51}{49}, aspect=1] (assignedRes) at (820,63) {assigned\\resource};
\node[proc=bl, wh={64}{41}] (showRes) at (820,215) {Show\\Resource};
\node[pc=bl] (plusF) at (820,377) {};
\node[xc=bl] (X13) at (1108,377) {};
\node[dec=bl] (delResQ) at (530,378) {Deleting\\Resource?};
\node[proc=bl, wh={64}{40}] (delRes2) at (262,380) {Delete\\Resource};
\node[sp, wh={54}{40}] (chooseRes) at (262,538) {Choose\\Resource};
\node[sp, wh={62}{34}] (bmPara2) at (531,538) {bookmarks};
\node[dec=bl] (addResQ) at (1110,540) {Add\\Resource?};
\node[term=bl] (resEnd2) at (1102,685) {resource\\END};
\node[term=bl] (bmEnd6) at (822,685) {bookmark\\END};
\node[proc=bl, wh={63}{40}] (showBms) at (531,696) {Show\\Bookmarks};
\node[sp, wh={62}{34}] (glt) at (531,853) {goals\\learned\_tech\\topics};
\node[sp, wh={54}{40}] (chooseTG1) at (531,1012) {Choose\\Topic or Goal};
\node[term=bl] (resStart4) at (531,1160) {resource\\START};
\node[proc=bl, wh={64}{40}] (createRes1) at (242,1167) {Create Resource};
\node[term=bl] (resEnd3) at (249,697) {resource\\END};
\node[term=bl] (bmEnd7) at (249,853) {bookmark\\END};
\node[term=cr] (gtEnd) at (249,1013) {Goal\\Topic\\END};
\node[sp, wh={54}{40}] (chooseTG2) at (1400,62) {Choose\\Topic or Goal};
\node[term=bl] (resStart5) at (1400,220) {resource\\START};
\node[proc=bl, wh={64}{40}] (createRes2) at (1400,390) {Create Resource};
\node[sp, wh={63}{32}] (saveRes2) at (1398,553) {Save\\Resource};
\node[term=bl] (resEnd4) at (1400,680) {resource\\END};
\node[sp, wh={64}{32}] (saveRes1) at (-10,1169) {Save\\Resource};
\node[xc=bl] (X14) at (-10,697) {};
\draw[arr] (assignedRes) -- (showRes);
\draw[arr] (showRes) -- (plusF);
\draw[arr] (plusF) -- (delResQ);
\draw[arr] (plusF) -- (X13);
\draw[arr] (X13) -- (addResQ);
\draw[gla] (addResQ.west) -| node[lab,pos=0.41]{Yes} (plusF.south);
\draw[ra] (addResQ) -- node[lab]{No} (resEnd2);
\draw[arr] (resEnd2) -- (bmEnd6);
\draw[gla] (delResQ) -- node[lab]{Yes} (delRes2);
\draw[ra] (delResQ) -- node[lab]{No} (bmPara2);
\draw[arr] (delRes2) -- (chooseRes);
\draw[arr] (chooseRes.west) -| (X14.north);
\draw[arr] (saveRes1) -- (X14);
\draw[arr] (X14) -- (resEnd3);
\draw[arr] (resEnd3) -- (bmEnd7);
\draw[arr] (bmEnd7) -- (gtEnd);
\draw[arr] (bmPara2) -- (showBms);
\draw[arr] (showBms) -- (glt);
\draw[arr] (glt) -- (chooseTG1);
\draw[arr] (chooseTG1) -- (resStart4);
\draw[arr] (resStart4) -- (createRes1);
\draw[arr] (createRes1) -- (saveRes1);
\draw[arr] (chooseTG2) -- (resStart5);
\draw[arr] (resStart5) -- (createRes2);
\draw[arr] (createRes2) -- (saveRes2);
\draw[arr] (saveRes2) -- (resEnd4);
\end{scope}
% ================= Z12 =================
\begin{scope}[z12]
\node[term=cr] (gtEnd2) at (143,59) {Goal\\Topics\\END};
\node[term=bl] (bmEnd5) at (439,62) {bookmark\\END};
\node[sp, wh={54}{40}] (chooseNL3) at (679,55) {Choose\\Name\\Link};
\node[sp, wh={63}{32}] (saveBm2) at (677,198) {Save\\Bookmark};
\node[term=bl] (resStart6) at (927,198) {resource\\START};
\node[proc=bl, wh={64}{39}] (createRes3) at (927,363) {Create Resource};
\node[sp, wh={63}{34}] (btg) at (935,551) {bookmark\\topic OR\\goal};
\node[sp, wh={64}{32}] (saveRes3) at (675,551) {Save\\Resource};
\node[term=bl] (resEnd5) at (675,680) {resource\\END};
\node[term=bl] (bmEnd8) at (675,832) {bookmark\\END};
\node[term=cr] (gtEnd4) at (679,985) {Goal\\Topics\\END};
\node[term=cr] (gtEnd3) at (143,679) {Goal\\Topics\\END};
\draw[arr] (bmEnd5) -- (gtEnd2);
\draw[arr] (chooseNL3) -- (saveBm2);
\draw[arr] (saveBm2) -- (resStart6);
\draw[arr] (resStart6) -- (createRes3);
\draw[arr] (createRes3) -- (btg);
\draw[arr] (btg) -- (saveRes3);
\draw[arr] (saveRes3) -- (resEnd5);
\draw[arr] (resEnd5) -- (bmEnd8);
\draw[arr] (bmEnd8) -- (gtEnd4);
\end{scope}
% ================= Z7 =================
\begin{scope}[z7]
\node[font=\fnTitle, text=ttl] (tMsg) at (747,241) {Message};
\node[term=cr] (msgStart) at (483,255) {Message\\START};
\node[sp, wh={48}{37}] (msgCyl) at (483,394) {Messages};
\node[dec=cr, wh={61}{47}] (onIndex) at (737,393) {On\\Index?};
\node[term=cr] (msgEnd) at (1028,393) {Message\\END};
\node[pc=cr] (plusM) at (738,568) {};
\node[proc=cr, wh={55}{41}] (showMsg) at (738,695) {Show\\Message};
\node[dec=cr] (refresh) at (1028,567) {Refresh?};
\node[an] (aM1) at (270,390) {Messages\\GET -all}; \BrL{395}{352}{432}
\node[an] (aM2) at (525,693) {Messages\\GET -pk}; \BrL{645}{655}{735}
\draw[arr] (msgStart) -- (msgCyl);
\draw[arr] (msgCyl) -- (onIndex);
\draw[ra] (onIndex) -- node[lab]{No} (msgEnd);
\draw[gla] (onIndex) -- node[lab]{Yes} (plusM);
\draw[ga] (plusM) -- (showMsg);
\draw[ra] (refresh) -- node[lab]{No} (msgEnd);
\draw[ga] (refresh) -- node[lab]{Yes} (plusM);
\draw[arr] (showMsg.east) -| (refresh.south);
\draw[ga] (plusM.west) -- (512,568) -- (512,774) -| (showMsg.south);
\end{scope}
% ================= cross-region connectors =================
\draw[ra] (delGoalQ.west) -| node[lab,pos=0.64]{No} (X1.north);
\draw[ga] (delTopicsQ) -- node[lab]{Yes} (delGoal);
\draw[arr] (setProg1) -- (saveGoal);
\draw[ga] (tcY) -- node[lab,pos=0.12]{Yes} (tcY |- stStart.north);
\draw[arr] (createTopicL) -- (Xa);
\draw[arr] (createTopicR) -- (Xb);
\draw[ra] (creatingR) -- (plusC);
\draw[ra] (creatingL.west) -| node[lab,pos=0.655]{No} (editingL.north);
\draw[arr] (showTS) -- (delPQ);
\draw[arr] (createTS.south) -- (createTS.south |- cTS) -| (X6.north);
\draw[arr] (E1) -- (bmStart);
\draw[arr] (plusTop.west) -| (contGoal.north);
\draw[ga] (contTopic.west) -- (ctY) |- node[lab,pos=0.25]{Yes} (X10.east);
\draw[arr] (plusE.east) -- (creatingB.west);
\draw[gla] (bmLength.west) -- node[lab]{Yes} (assignBm.east);
\draw[arr] (resCyl) -- (assignedRes);
\draw[ra] (tgBm) -- node[lab]{No} (X13);
\draw[ga] (assignBm) -- node[lab]{Yes} (chooseTG2);
\draw[ra] (createBmQ) -- node[lab]{No} (bmEnd5);
\draw[arr] (createBm2) -- (chooseNL3);
\draw[arr] (resEnd4) -- (gtEnd3);
% ================= background and special shapes =================
\begin{scope}[on background layer]
\fill[bg] (0,0) rectangle (3697,1415);
\fill[topc] (0,0) rectangle (3697,9);
\ShCyl{users}{cr}{21.5}\ShCyl{techUser}{cr}{29}\ShCyl{ulCyl}{cr}{22}\ShCyl{goalsCyl}{cr}{24}
\ShCyl{topicsCyl}{cr}{24.5}\ShCyl{ltgCyl}{cr}{23.5}\ShCyl{tuCyl}{cr}{20}\ShCyl{projCyl}{gn}{23.5}
\ShCyl{userCyl}{cr}{25.5}\ShCyl{tsCyl}{gn}{25.5}\ShCyl{ltCyl}{cr}{25.5}\ShCyl{utrCyl}{lv}{25.5}
\ShCyl{catCyl}{lv}{26}\ShCyl{catCyl2}{lv}{25.5}\ShCyl{resCyl}{bl}{25.5}\ShCyl{bmCyl}{bl}{25.5}
\ShCyl{resCyl2}{bl}{25.5}\ShCyl{msgCyl}{cr}{24}
\ShMan{sel1}{cr}\ShMan{sel2}{cr}\ShMan{dispName}{cr}\ShMan{bio}{cr}\ShMan{chooseTD}{cr}
\ShMan{chooseTopics}{cr}\ShMan{chooseTD2}{cr}\ShMan{tgu1}{gn}\ShMan{tgu2}{gn}\ShMan{chooseLT2}{gn}
\ShMan{createReqCat}{lv}\ShMan{chooseNL1}{bl}\ShMan{chooseNL2}{bl}\ShMan{chooseRes}{bl}
\ShMan{chooseTG1}{cr}\ShMan{chooseTG2}{cr}\ShMan{chooseNL3}{bl}
\ShSto{saveUser}{cr}\ShSto{storeLT}{cr}\ShSto{saveGoal}{cr}\ShSto{saveTopic}{cr}\ShSto{saveTS}{gn}
\ShSto{saveProj}{gn}\ShSto{saveUTR}{lv}\ShSto{saveBm1}{bl}\ShSto{saveRes1}{bl}\ShSto{saveRes2}{bl}
\ShSto{saveBm2}{bl}\ShSto{saveRes3}{bl}
\ShHex{setProg1}{cr}\ShHex{setProgL}{cr}\ShHex{setProgR}{cr}\ShHex{updProg}{cr}\ShHex{setProg2}{cr}
\ShPar{oauth}{cr}\ShPar{techUser2}{cr}\ShPar{ulPara}{cr}\ShPar{userP}{cr}\ShPar{gltu}{cr}
\ShPar{userP2}{cr}\ShPar{tsByP2}{gn}\ShPar{userP3}{cr}\ShPar{selCat}{cr}\ShPar{userP4}{cr}
\ShPar{bmPara}{bl}\ShPar{bmPara2}{bl}\ShPar{glt}{bl}\ShPar{btg}{bl}
\end{scope}
% UI overlays
\fill[uig, rounded corners=14pt] (1744,1384) rectangle (1862,1440);
\fill[uig, opacity=0.9, rounded corners=10pt] (3597,561) rectangle (3720,680);
\draw[white, line width=1.6pt] (3656,602) -- (3638,621) -- (3656,641);
\end{tikzpicture}
\end{document}
